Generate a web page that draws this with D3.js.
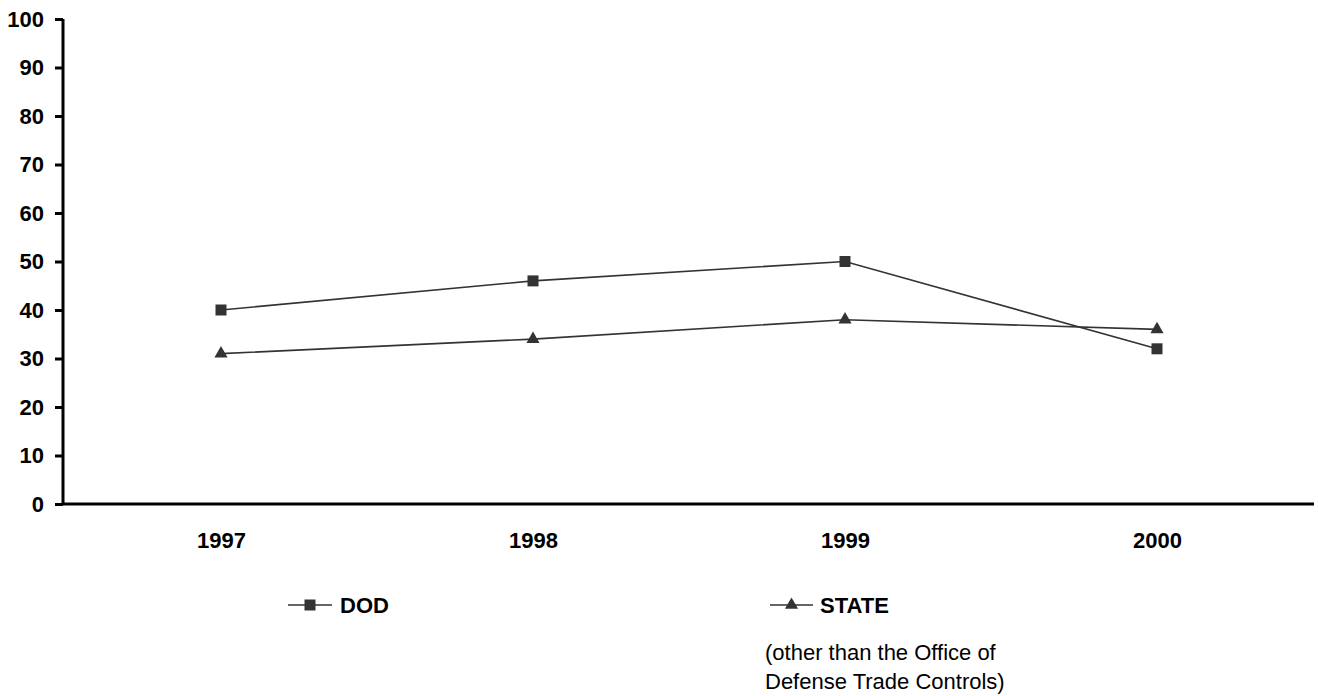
<!DOCTYPE html>
<html>
<head>
<meta charset="utf-8">
<script src="https://cdn.jsdelivr.net/npm/d3@7"></script>
<style>
  html, body { margin: 0; padding: 0; background: #fff; }
  svg { display: block; font-family: "Liberation Sans", Arial, sans-serif; }
</style>
</head>
<body>
<svg id="chart" width="1318" height="696"></svg>
<script>
const years = ["1997", "1998", "1999", "2000"];
const dodValues = [40, 46, 50, 32];
const stateValues = [31, 34, 38, 36];
const yTicks = [0, 10, 20, 30, 40, 50, 60, 70, 80, 90, 100];
const seriesNames = ["DOD", "STATE"];
const stateNote = ["(other than the Office of", "Defense Trade Controls)"];

const svg = d3.select("#chart");
const ink = "#000";
const markColor = "#333";

const x = d3.scalePoint().domain(years).range([65, 1313]).padding(0.5);
const y = d3.scaleLinear().domain([0, 100]).range([504, 19]);

// Y axis
const yAxis = d3.axisLeft(y).tickValues(yTicks).tickSize(8).tickPadding(11).tickFormat(d3.format("d"));
const yg = svg.append("g").attr("transform", "translate(63,0)").call(yAxis);
yg.select(".domain").attr("stroke", ink).attr("stroke-width", 3).attr("d", `M0,${y(0)}V${y(100)}`);
yg.selectAll(".tick line").attr("stroke", ink).attr("stroke-width", 3);
yg.selectAll(".tick text").attr("fill", ink).attr("font-size", 22).attr("font-weight", "bold")
  .attr("font-family", "'Liberation Sans', Arial, sans-serif");

// X axis
const xAxis = d3.axisBottom(x).tickSize(0).tickPadding(28);
const xg = svg.append("g").attr("transform", `translate(0,${y(0)})`).call(xAxis);
xg.select(".domain").attr("stroke", ink).attr("stroke-width", 3).attr("d", "M62,0H1314");
xg.selectAll(".tick text").attr("fill", ink).attr("font-size", 22).attr("font-weight", "bold")
  .attr("font-family", "'Liberation Sans', Arial, sans-serif");

const line = d3.line().x((d, i) => x(years[i])).y(d => y(d));
const square = d3.symbol().type(d3.symbolSquare).size(121);
const triangle = d3.symbol().type(d3.symbolTriangle).size(75);

function drawSeries(values, sym) {
  svg.append("path").datum(values).attr("d", line)
    .attr("fill", "none").attr("stroke", markColor).attr("stroke-width", 1.6);
  svg.append("g").selectAll("path").data(values).join("path")
    .attr("d", sym)
    .attr("transform", (d, i) => `translate(${x(years[i])},${y(d)})`)
    .attr("fill", markColor);
}
drawSeries(dodValues, square);
drawSeries(stateValues, triangle);

// Legend
const legend = [
  { name: seriesNames[0], x1: 288, x2: 332, sym: square, tx: 340 },
  { name: seriesNames[1], x1: 770, x2: 813, sym: triangle, tx: 820 }
];
const ly = 605;
legend.forEach(l => {
  svg.append("line").attr("x1", l.x1).attr("x2", l.x2).attr("y1", ly).attr("y2", ly)
    .attr("stroke", markColor).attr("stroke-width", 1.6);
  svg.append("path").attr("d", l.sym).attr("fill", markColor)
    .attr("transform", `translate(${(l.x1 + l.x2) / 2},${ly})`);
  svg.append("text").attr("x", l.tx).attr("y", ly + 8).attr("font-size", 22)
    .attr("font-weight", "bold").attr("fill", ink).text(l.name);
});
svg.append("text").attr("x", 765).attr("y", 660).attr("font-size", 22).attr("fill", ink)
  .selectAll("tspan").data(stateNote).join("tspan")
  .attr("x", 765).attr("dy", (d, i) => i === 0 ? 0 : 29).text(d => d);
</script>
</body>
</html>
